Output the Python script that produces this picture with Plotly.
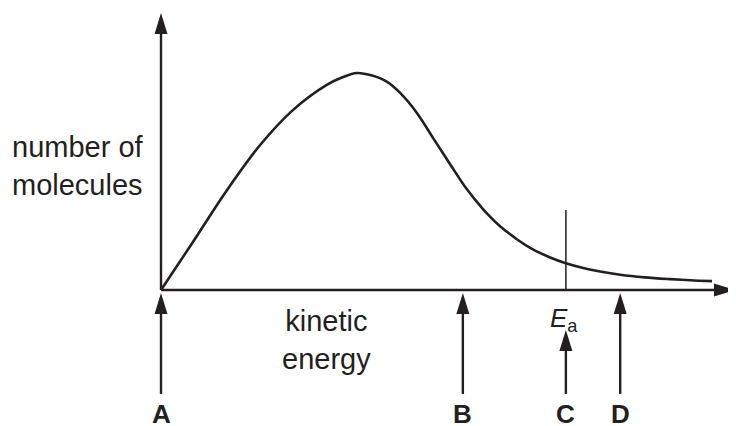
"""
Maxwell-Boltzmann distribution sketch with activation energy marker
and four labelled arrows (A-D) under the energy axis.
"""

import plotly.graph_objects as go

# ---------------------------------------------------------------------------
# Data (energy in arbitrary units, molecule count scaled so the peak = 100)
# ---------------------------------------------------------------------------

ENERGY = [0, 5.7, 11.8, 17.7, 23.6, 29.6, 32.3, 35.0, 37.7, 40.4, 42.7,
          45.7, 48.6, 51.6, 54.6, 57.5, 60.5, 63.6, 66.4, 69.5, 72.3,
          75.4, 78.4, 82.0, 86.4, 90.9, 94.5, 98.4]
MOLECULES = [0, 22.1, 46.1, 66.8, 83.0, 94.5, 97.9, 100, 98.8, 95.9, 90.8,
             81.6, 70.0, 58.1, 46.5, 37.3, 29.5, 23.3, 18.7, 15.0, 12.3,
             10.1, 8.5, 7.0, 5.8, 5.0, 4.5, 4.1]

EA = 72.3            # activation energy
EA_LINE_TOP = 36.9   # height of the Ea marker line

ARROW_LABELS = ["A", "B", "C", "D"]
ARROW_X = [0, 53.9, 72.3, 82.0]
ARROW_TIP = [-1.4, -1.4, -18.4, -1.4]
ARROW_BASE = -47.9

X_AXIS_END = 102.5
Y_AXIS_END = 127.6

# ---------------------------------------------------------------------------
# Scale: pixels per data unit (plot area fills the whole canvas)
# the page body adds an 8px margin, so the origin is placed 8px up/left
# ---------------------------------------------------------------------------

W, H = 736, 426
SX, SY = 5.6, 2.17
X0_PX, Y0_PX = 161 - 8, 290 - 8
X_RANGE = [-X0_PX / SX, (W - X0_PX) / SX]
Y_RANGE = [(Y0_PX - H) / SY, Y0_PX / SY]

INK = "#231f20"
FONT = "Liberation Sans, Arial, Helvetica, sans-serif"

HEAD_LEN = 21    # px
HEAD_HALF = 6.5  # px


def _head_up(x, y):
    """Filled arrowhead pointing up with its tip at (x, y)."""
    dx = HEAD_HALF / SX
    dy = HEAD_LEN / SY
    return f"M {x},{y} L {x - dx},{y - dy} L {x + dx},{y - dy} Z"


def _head_right(x, y):
    dx = HEAD_LEN / SX
    dy = HEAD_HALF / SY
    return f"M {x},{y} L {x - dx},{y - dy} L {x - dx},{y + dy} Z"


fig = go.Figure()

# Distribution curve
fig.add_trace(
    go.Scatter(
        x=ENERGY,
        y=MOLECULES,
        mode="lines",
        line=dict(color=INK, width=2.6, shape="spline", smoothing=1.0),
        hoverinfo="skip",
        showlegend=False,
    )
)

shapes = []
line_style = dict(color=INK, width=2.4)

# Axes
shapes.append(dict(type="line", xref="x", yref="y", x0=0, y0=0,
                   x1=0, y1=Y_AXIS_END - HEAD_LEN / SY + 1, line=line_style))
shapes.append(dict(type="path", xref="x", yref="y",
                   path=_head_up(0, Y_AXIS_END), fillcolor=INK,
                   line=dict(width=0)))
shapes.append(dict(type="line", xref="x", yref="y", x0=0, y0=0,
                   x1=X_AXIS_END - HEAD_LEN / SX + 1, y1=0, line=line_style))
shapes.append(dict(type="path", xref="x", yref="y",
                   path=_head_right(X_AXIS_END, 0), fillcolor=INK,
                   line=dict(width=0)))

# Ea marker line
shapes.append(dict(type="line", xref="x", yref="y", x0=EA, y0=0,
                   x1=EA, y1=EA_LINE_TOP, line=dict(color=INK, width=1.5)))

# Arrows A-D
for x, tip in zip(ARROW_X, ARROW_TIP):
    shapes.append(dict(type="line", xref="x", yref="y", x0=x, y0=ARROW_BASE,
                       x1=x, y1=tip - HEAD_LEN / SY + 1, line=line_style))
    shapes.append(dict(type="path", xref="x", yref="y",
                       path=_head_up(x, tip), fillcolor=INK,
                       line=dict(width=0)))

annotations = []
for label, x in zip(ARROW_LABELS, ARROW_X):
    annotations.append(dict(
        x=x, y=-57.0, xref="x", yref="y", text=f"<b>{label}</b>",
        showarrow=False, xanchor="center", yanchor="middle",
        font=dict(family=FONT, size=26, color=INK),
    ))

annotations.append(dict(
    x=29.6, y=-23, xref="x", yref="y", text="kinetic<br>energy",
    showarrow=False, xanchor="center", yanchor="middle",
    font=dict(family=FONT, size=29, color=INK),
))
annotations.append(dict(
    x=-14.8, y=57, xref="x", yref="y", text="number of<br>molecules",
    showarrow=False, xanchor="center", yanchor="middle",
    font=dict(family=FONT, size=29, color=INK),
))
annotations.append(dict(
    x=EA - 0.3, y=-13.5, xref="x", yref="y", text="<i>E</i><sub>a</sub>",
    showarrow=False, xanchor="center", yanchor="middle",
    font=dict(family=FONT, size=26, color=INK),
))

fig.update_layout(
    width=W,
    height=H,
    margin=dict(l=0, r=0, t=0, b=0),
    paper_bgcolor="white",
    plot_bgcolor="white",
    xaxis=dict(range=X_RANGE, visible=False, fixedrange=True),
    yaxis=dict(range=Y_RANGE, visible=False, fixedrange=True),
    shapes=shapes,
    annotations=annotations,
    showlegend=False,
)

fig.write_html("out.html", config={"displayModeBar": False})
